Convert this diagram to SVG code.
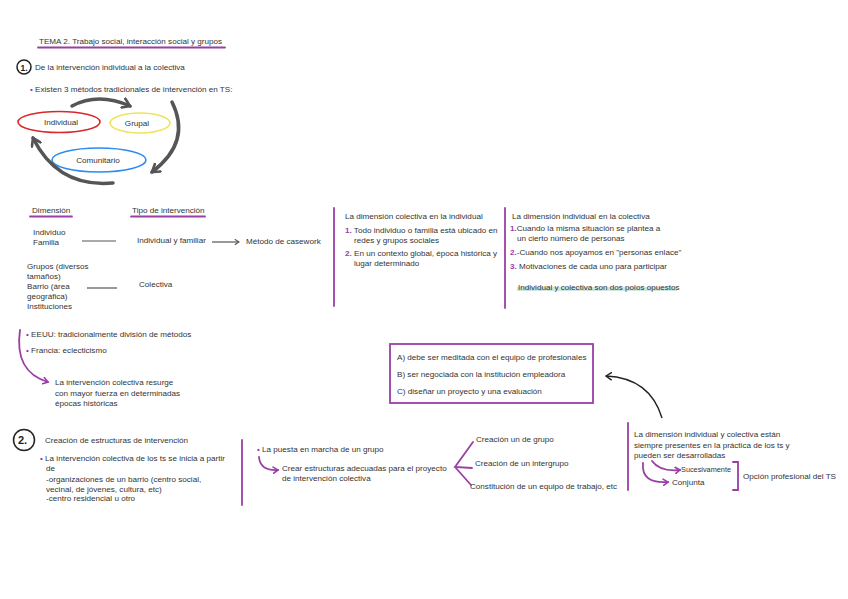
<svg xmlns="http://www.w3.org/2000/svg" width="848" height="599" viewBox="0 0 848 599">
<defs>
<style>
.t{font-family:"Liberation Sans",Arial,sans-serif;font-size:8.1px;fill:#333}
.p{fill:#9b3fa6;font-weight:bold}
.pl{stroke:#9b3fa6;stroke-width:1.8;fill:none;stroke-linecap:round}
.gl{stroke:#555;stroke-width:1.2;fill:none}
.ga{stroke:#555;stroke-width:3.5;fill:none;stroke-linecap:round}
</style>
<marker id="mg" viewBox="0 0 10 10" refX="7" refY="5" markerWidth="12" markerHeight="12" markerUnits="userSpaceOnUse" orient="auto"><path d="M1,1 L7,5 L1,9" fill="none" stroke="#555" stroke-width="2.2" stroke-linecap="round"/></marker>
<marker id="mp" viewBox="0 0 10 10" refX="7" refY="5" markerWidth="8" markerHeight="8" markerUnits="userSpaceOnUse" orient="auto"><path d="M1,1 L7,5 L1,9" fill="none" stroke="#9b3fa6" stroke-width="2" stroke-linecap="round"/></marker>
<marker id="mk" viewBox="0 0 10 10" refX="7" refY="5" markerWidth="9" markerHeight="9" markerUnits="userSpaceOnUse" orient="auto"><path d="M1,1 L7,5 L1,9" fill="none" stroke="#222" stroke-width="1.6" stroke-linecap="round"/></marker>
<marker id="ml" viewBox="0 0 10 10" refX="7" refY="5" markerWidth="7" markerHeight="7" markerUnits="userSpaceOnUse" orient="auto"><path d="M1,1 L7,5 L1,9" fill="none" stroke="#555" stroke-width="1.5"/></marker>
</defs>
<rect width="848" height="599" fill="#fff"/>

<g id="title">
<text class="t" x="39" y="44">TEMA 2. Trabajo social, interacción social y grupos</text>
<line x1="38" y1="47.5" x2="225" y2="47.5" class="pl" stroke-width="1.5"/>
</g>

<g id="sec1">
<circle cx="24" cy="67" r="7" fill="none" stroke="#222" stroke-width="1.5"/>
<text class="t" x="20.5" y="70.5" style="font-weight:bold;font-size:8.5px;fill:#222">1.</text>
<text class="t" x="35" y="70">De la intervención individual a la colectiva</text>
<text class="t" x="30" y="92"><tspan class="p">•</tspan> Existen 3 métodos tradicionales de intervención en TS:</text>
</g>

<g id="n-individual">
<ellipse cx="59" cy="122" rx="41" ry="10.5" fill="none" stroke="#d8282a" stroke-width="1.6"/>
<text class="t" x="61" y="124.5" text-anchor="middle">Individual</text>
</g>
<g id="n-grupal">
<ellipse cx="140" cy="123" rx="30" ry="10" fill="none" stroke="#eee55a" stroke-width="1.6"/>
<text class="t" x="137" y="125.5" text-anchor="middle">Grupal</text>
</g>
<g id="n-comunitario">
<ellipse cx="99" cy="160" rx="47" ry="12" fill="none" stroke="#2a8cf0" stroke-width="1.6"/>
<text class="t" x="98" y="162.5" text-anchor="middle">Comunitario</text>
</g>

<g id="connectors">
<path class="ga" d="M72,106 Q98,92 130,106" marker-end="url(#mg)"/>
<path class="ga" d="M172,102 Q192,142 152,172" marker-end="url(#mg)"/>
<path class="ga" d="M113,183 Q58,188 33,138" marker-end="url(#mg)"/>
<line class="gl" x1="82" y1="241" x2="116" y2="241"/>
<line class="gl" x1="87" y1="288" x2="117" y2="288"/>
<line class="gl" x1="212" y1="242" x2="239" y2="242" marker-end="url(#ml)"/>
<path class="pl" d="M20,330 Q14,372 48,382" marker-end="url(#mp)"/>
<path d="M662,418 Q650,378 606,376" fill="none" stroke="#222" stroke-width="1.4" marker-end="url(#mk)"/>
<path class="pl" d="M259,457 Q260,471 278,470" marker-end="url(#mp)"/>
<path class="pl" d="M473,442 L455,467 L472,468 M455,467 L471,485"/>
<path class="pl" d="M652,461 Q660,472 680,470" marker-end="url(#mp)"/>
<path class="pl" d="M643,463 Q641,484 668,482" marker-end="url(#mp)"/>
</g>

<g id="dimension">
<text class="t" x="32" y="213">Dimensión</text>
<line class="pl" x1="30" y1="216.5" x2="72" y2="216.5" stroke-width="1.3"/>
<text class="t" x="132" y="213">Tipo de intervención</text>
<line class="pl" x1="131" y1="216.5" x2="205" y2="216.5" stroke-width="1.3"/>
<text class="t" x="33" y="235">Individuo</text>
<text class="t" x="33" y="245">Familia</text>
<text class="t" x="137" y="243">Individual y familiar</text>
<text class="t" x="246" y="244">Método de casework</text>
<text class="t" x="27" y="269">Grupos (diversos</text>
<text class="t" x="27" y="279">tamaños)</text>
<text class="t" x="27" y="289">Barrio (área</text>
<text class="t" x="27" y="299">geográfica)</text>
<text class="t" x="27" y="309">Instituciones</text>
<text class="t" x="139" y="287">Colectiva</text>
</g>

<g id="col-colectiva">
<line class="pl" x1="334" y1="208" x2="334" y2="306"/>
<line class="pl" x1="505" y1="208" x2="505" y2="308"/>
<text class="t" x="345" y="219">La dimensión colectiva en la individual</text>
<text class="t" x="345" y="233"><tspan class="p">1.</tspan> Todo individuo o familia está ubicado en</text>
<text class="t" x="354" y="243">redes y grupos sociales</text>
<text class="t" x="345" y="256"><tspan class="p">2.</tspan> En un contexto global, época histórica y</text>
<text class="t" x="354" y="266">lugar determinado</text>
</g>

<g id="col-individual">
<text class="t" x="512" y="219">La dimensión individual en la colectiva</text>
<text class="t" x="510" y="231"><tspan class="p">1.</tspan>Cuando la misma situación se plantea a</text>
<text class="t" x="517" y="241">un cierto número de personas</text>
<text class="t" x="510" y="255"><tspan class="p">2.</tspan>-Cuando nos apoyamos en "personas enlace"</text>
<text class="t" x="510" y="269"><tspan class="p">3.</tspan> Motivaciones de cada uno para participar</text>
<rect x="517" y="287" width="160" height="4" fill="#cde8e0"/>
<text class="t" x="518" y="290">Individual y colectiva son dos polos opuestos</text>
</g>

<g id="eeuu">
<text class="t" x="26" y="337"><tspan class="p">•</tspan> EEUU: tradicionalmente división de métodos</text>
<text class="t" x="26" y="353"><tspan class="p">•</tspan> Francia: eclecticismo</text>
<text class="t" x="55" y="385">La intervención colectiva resurge</text>
<text class="t" x="55" y="396">con mayor fuerza en determinadas</text>
<text class="t" x="55" y="406">épocas históricas</text>
</g>

<g id="box-abc">
<rect x="390" y="344" width="203" height="59" fill="none" stroke="#9b3fa6" stroke-width="1.8"/>
<text class="t" x="397" y="360">A) debe ser meditada con el equipo de profesionales</text>
<text class="t" x="397" y="377">B) ser negociada con la institución empleadora</text>
<text class="t" x="397" y="394">C) diseñar un proyecto y una evaluación</text>
</g>

<g id="sec2">
<circle cx="24" cy="440" r="10.5" fill="none" stroke="#222" stroke-width="1.5"/>
<text class="t" x="18" y="444" style="font-weight:bold;font-size:11px;fill:#222">2.</text>
<text class="t" x="45" y="443">Creación de estructuras de intervención</text>
<text class="t" x="40" y="461"><tspan class="p">•</tspan> La intervención colectiva de los ts se inicia a partir</text>
<text class="t" x="46" y="471">de</text>
<text class="t" x="46" y="482">-organizaciones de un barrio (centro social,</text>
<text class="t" x="46" y="492">vecinal, de jóvenes, cultura, etc)</text>
<text class="t" x="46" y="501">-centro residencial u otro</text>
<line class="pl" x1="242" y1="440" x2="242" y2="505"/>
</g>

<g id="grupo">
<text class="t" x="257" y="452"><tspan class="p">•</tspan> La puesta en marcha de un grupo</text>
<text class="t" x="282" y="471">Crear estructuras adecuadas para el proyecto</text>
<text class="t" x="282" y="481">de intervención colectiva</text>
<text class="t" x="476" y="442">Creación un de grupo</text>
<text class="t" x="475" y="466">Creación de un intergrupo</text>
<text class="t" x="470" y="489">Constitución de un equipo de trabajo, etc</text>
</g>

<g id="presentes">
<line class="pl" x1="628" y1="423" x2="628" y2="490"/>
<text class="t" x="634" y="437">La dimensión individual y colectiva están</text>
<text class="t" x="634" y="448">siempre presentes en la práctica de los ts y</text>
<text class="t" x="634" y="458">pueden ser desarrolladas</text>
<text class="t" x="681" y="472" textLength="50" lengthAdjust="spacingAndGlyphs">Sucesivamente</text>
<text class="t" x="672" y="485">Conjunta</text>
<path class="pl" d="M733,462 L738,462 L738,490 L733,490"/>
<text class="t" x="743" y="479">Opción profesional del TS</text>
</g>
</svg>
